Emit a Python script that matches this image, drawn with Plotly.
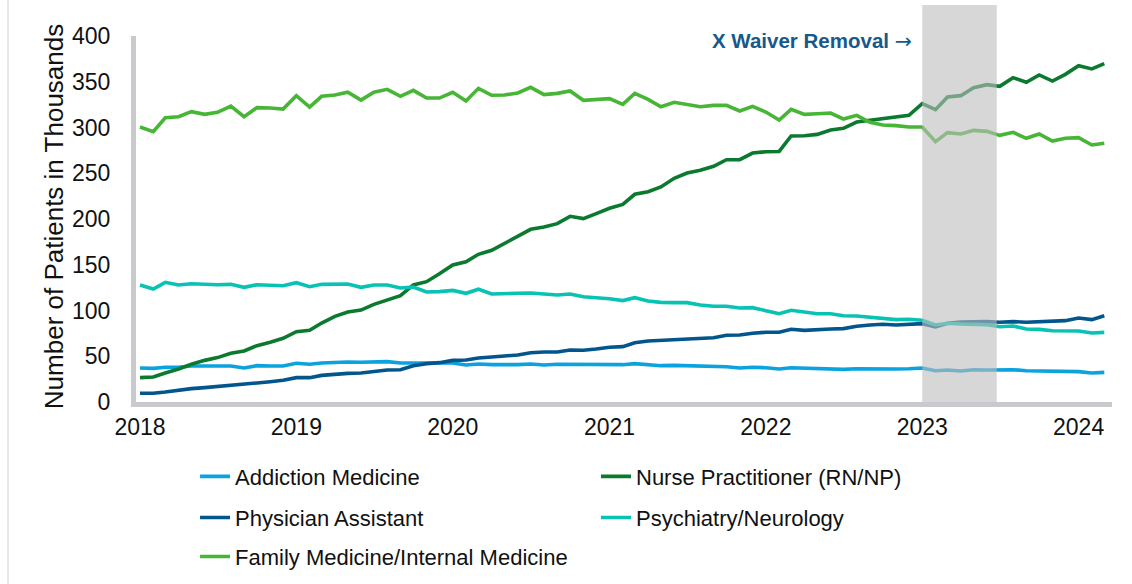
import pandas as pd
import plotly.graph_objects as go

# ---------------- data ----------------
months = pd.date_range("2018-01-01", periods=75, freq="MS")

addiction_medicine = [
    37.2, 36.8, 37.9, 37.9, 39.3, 39.0, 39.0, 39.3, 37.2, 39.7, 39.3, 39.3,
    42.3, 41.2, 42.6, 43.4, 43.7, 43.4, 43.7, 44.1, 42.6, 42.6, 41.9, 41.9,
    42.6, 40.4, 41.5, 40.8, 40.4, 40.8, 41.5, 40.4, 41.2, 41.2, 40.8, 40.4,
    41.2, 40.8, 41.9, 40.8, 39.7, 40.0, 39.7, 39.0, 38.6, 38.6, 37.2, 37.9,
    37.5, 36.1, 37.5, 37.2, 37.2, 36.8, 35.7, 36.4, 36.1, 35.7, 36.1, 36.4,
    37.2, 34.2, 35.0, 33.9, 35.3, 35.0, 35.0, 35.3, 34.2, 33.9, 33.2, 33.2,
    33.2, 31.7, 32.4,
]

nurse_practitioner = [
    26.6, 27.3, 31.7, 36.0, 41.2, 45.5, 48.5, 53.2, 55.7, 61.6, 65.2, 69.6,
    76.9, 78.3, 86.3, 93.6, 98.4, 100.5, 106.7, 111.8, 116.2, 127.9, 131.5, 140.2,
    149.7, 153.3, 161.4, 165.8, 173.0, 181.1, 188.7, 191.3, 194.9, 202.9, 200.4, 205.8,
    211.7, 216.0, 227.0, 229.8, 235.0, 244.5, 250.3, 253.2, 257.6, 264.8, 264.8, 272.1,
    273.5, 273.8, 290.7, 291.0, 292.5, 297.3, 299.1, 306.0, 307.8, 309.3, 311.1, 313.3,
    326.0, 319.5, 333.3, 334.8, 343.5, 346.8, 345.0, 354.5, 349.4, 357.4, 350.8, 358.1,
    367.6, 364.0, 369.8,
]

physician_assistant = [
    9.5, 9.5, 10.9, 13.1, 14.6, 15.7, 16.8, 17.8, 18.9, 20.8, 22.2, 23.7,
    26.6, 26.6, 29.1, 30.6, 31.3, 31.7, 33.5, 35.0, 35.3, 39.7, 41.9, 43.0,
    45.5, 45.9, 48.1, 48.8, 50.3, 51.4, 53.9, 54.6, 54.6, 56.8, 56.5, 57.9,
    59.8, 60.5, 64.8, 66.7, 67.4, 68.1, 69.2, 69.9, 70.3, 72.9, 73.2, 75.1,
    76.2, 76.2, 79.5, 78.3, 79.5, 79.8, 80.2, 82.7, 84.2, 84.9, 84.2, 84.9,
    85.6, 82.0, 86.0, 87.4, 87.8, 87.8, 87.1, 87.8, 87.1, 87.8, 87.8, 88.9,
    91.8, 90.0, 94.3,
]

psychiatry_neurology = [
    127.9, 123.5, 130.8, 127.9, 129.3, 128.6, 128.2, 128.6, 125.3, 128.2, 127.5, 127.1,
    130.4, 126.0, 128.6, 129.0, 129.0, 125.3, 127.9, 127.9, 124.6, 125.7, 120.2, 120.6,
    122.0, 118.8, 123.2, 118.0, 118.0, 118.8, 119.1, 118.0, 116.9, 118.0, 115.1, 114.0,
    112.9, 110.8, 114.0, 110.4, 108.9, 108.6, 108.6, 106.0, 104.6, 104.6, 102.7, 103.1,
    100.2, 96.5, 100.2, 98.4, 96.5, 96.5, 94.3, 94.0, 92.9, 91.5, 90.0, 90.4,
    89.3, 84.2, 86.0, 85.2, 85.2, 84.5, 82.3, 83.0, 79.8, 79.4, 77.9, 77.6,
    77.6, 75.4, 76.1,
]

family_internal_medicine = [
    300.5, 295.4, 310.7, 311.8, 317.3, 314.4, 316.6, 323.5, 311.8, 321.7, 321.3, 320.2,
    334.8, 322.4, 334.1, 335.5, 338.5, 330.0, 338.5, 341.7, 334.1, 340.6, 332.2, 332.2,
    338.5, 329.0, 342.8, 335.2, 335.5, 337.7, 343.9, 335.9, 337.3, 339.9, 329.7, 330.4,
    331.5, 325.3, 337.3, 330.7, 322.7, 327.5, 325.3, 322.7, 324.2, 324.2, 318.0, 323.1,
    316.9, 308.2, 319.9, 314.4, 315.1, 315.8, 309.3, 313.3, 305.6, 302.7, 302.0, 300.5,
    300.5, 284.5, 294.4, 292.9, 296.9, 295.8, 291.4, 294.7, 288.2, 292.9, 285.2, 288.2,
    288.9, 280.9, 282.7,
]

series_names = [
    "Addiction Medicine",
    "Nurse Practitioner (RN/NP)",
    "Physician Assistant",
    "Psychiatry/Neurology",
    "Family Medicine/Internal Medicine",
]
series_values = [
    addiction_medicine,
    nurse_practitioner,
    physician_assistant,
    psychiatry_neurology,
    family_internal_medicine,
]
series_colors = ["#0ba3de", "#0b7a2f", "#02568c", "#08c2b4", "#47b535"]

y_ticks = [0, 50, 100, 150, 200, 250, 300, 350, 400]
x_ticks = ["2018-01-01", "2019-01-01", "2020-01-01", "2021-01-01",
           "2022-01-01", "2023-01-01", "2024-01-01"]
x_tick_labels = ["2018", "2019", "2020", "2021", "2022", "2023", "2024"]
waiver_start = "2023-01-01"
waiver_end = "2023-06-24"

# ---------------- figure ----------------
FONT = "Arial, 'Liberation Sans', sans-serif"
legend_ids = ["legend", "legend2", "legend3", "legend4", "legend5"]

fig = go.Figure()
for name, vals, col, lg in zip(series_names, series_values, series_colors, legend_ids):
    fig.add_trace(go.Scatter(
        x=months, y=vals, mode="lines", name=name,
        line=dict(color=col, width=3.6),
        legend=lg, hoverinfo="x+y+name",
    ))

# legend placement (two columns, three rows)
col_x = [0.0605, 0.4713]
row_y = [-0.2038, -0.316, -0.4227]
positions = [(col_x[0], row_y[0]), (col_x[1], row_y[0]),
             (col_x[0], row_y[1]), (col_x[1], row_y[1]),
             (col_x[0], row_y[2])]
legend_layout = {}
for lg, (lx, ly) in zip(legend_ids, positions):
    legend_layout[lg] = dict(
        x=lx, y=ly, xanchor="left", yanchor="middle",
        font=dict(family=FONT, size=22, color="#111111"),
        bgcolor="rgba(0,0,0,0)", borderwidth=0,
    )

fig.update_layout(
    width=1132, height=584,
    margin=dict(l=136, r=20, t=36, b=182, autoexpand=False),
    paper_bgcolor="white", plot_bgcolor="white",
    font=dict(family=FONT, color="#111111"),
    showlegend=True,
    **legend_layout,
)

fig.update_xaxes(
    type="date",
    range=["2017-12-22 16:00", "2024-03-19"],
    tickvals=x_ticks, ticktext=x_tick_labels,
    tickfont=dict(family=FONT, size=23, color="#111111"),
    showgrid=False, zeroline=False,
    showline=True, linecolor="#c9cacd", linewidth=5,
    ticks="", ticklabelstandoff=0, automargin=False,
)
fig.update_yaxes(
    range=[0, 400],
    tickvals=y_ticks,
    tickfont=dict(family=FONT, size=23, color="#111111"),
    showgrid=False, zeroline=False,
    showline=True, linecolor="#c9cacd", linewidth=5,
    ticks="", ticklabelstandoff=16, automargin=False,
)

# X waiver removal shading (drawn over the lines, semi-transparent)
fig.add_shape(
    type="rect", xref="x", yref="paper",
    x0=waiver_start, x1=waiver_end, y0=0, y1=1.085,
    fillcolor="#bdbdbd", opacity=0.6, line=dict(width=0), layer="above",
)

# faint outer frame on the left
fig.add_shape(
    type="line", xref="paper", yref="paper",
    x0=-0.1311, x1=-0.1311, y0=-0.6, y1=1.2,
    line=dict(color="#dde2e8", width=1.5), layer="below",
)

fig.add_annotation(
    text="X Waiver Removal <span style='font-family:DejaVu Sans;font-weight:normal'>→</span>",
    xref="paper", yref="paper",
    x=0.797, y=0.986, xanchor="right", yanchor="middle", showarrow=False,
    font=dict(family=FONT, size=20.5, color="#16598d", weight="bold"),
)

fig.add_annotation(
    text="Number of Patients in Thousands", xref="paper", yref="paper",
    x=-0.084, y=0.505, xanchor="center", yanchor="middle", showarrow=False,
    textangle=-90,
    font=dict(family=FONT, size=26, color="#111111"),
)

fig.write_html("out.html", config={"displayModeBar": False},
               post_script="document.body.style.margin='0px';")
